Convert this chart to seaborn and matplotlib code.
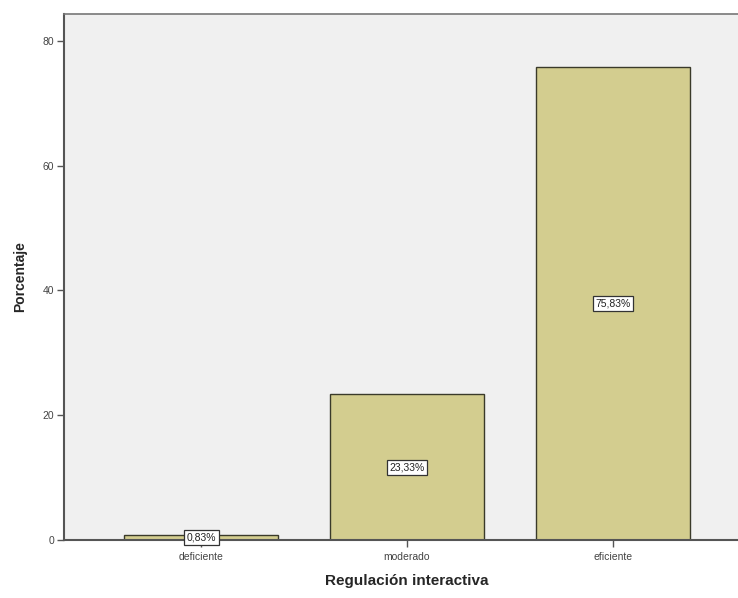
import pandas as pd
import numpy as np
import matplotlib
matplotlib.use("Agg")
import matplotlib.pyplot as plt
import seaborn as sns

# Datos
categorias = ['deficiente', 'moderado', 'eficiente']
porcentajes = [0.83, 23.33, 75.83]
etiquetas = ['0,83%', '23,33%', '75,83%']

df = pd.DataFrame({'categoria': categorias, 'porcentaje': porcentajes})

sns.set_style("white")
plt.rcParams['font.family'] = ['Arial', 'Liberation Sans', 'DejaVu Sans']

fig = plt.figure(figsize=(7.38, 5.98), dpi=100)
# el marco derecho queda fuera de la imagen, como en la referencia
ax = fig.add_axes([64 / 738, 58 / 598, (750 - 64) / 738, (540 - 14) / 598])

sns.barplot(data=df, x='categoria', y='porcentaje', ax=ax, color='#D3CD8F',
            saturation=1, width=0.75, edgecolor='#3a3a2a', linewidth=1.0)

ax.set_facecolor('#F0F0F0')
ax.set_xlim(-0.667, 2.667)
ax.set_ylim(0, 84.3)
ax.set_yticks([0, 20, 40, 60, 80])

# Etiquetas dentro de las barras
for i, (v, t) in enumerate(zip(porcentajes, etiquetas)):
    ax.text(i, v / 2, t, ha='center', va='center', fontsize=7.5, color='#222222',
            bbox=dict(boxstyle='square,pad=0.25', facecolor='white',
                      edgecolor='#333333', linewidth=0.9))

for s in ['left', 'bottom']:
    ax.spines[s].set_color('#555555')
    ax.spines[s].set_linewidth(1.5)
ax.spines['top'].set_color('#777777')
ax.spines['top'].set_linewidth(1.2)
ax.spines['right'].set_color('#777777')

ax.tick_params(axis='both', which='major', direction='out', length=5, width=1,
               color='#555555', labelsize=7.5, labelcolor='#444444', left=True, bottom=True)
ax.tick_params(axis='y', pad=2)

ax.set_xlabel('Regulación interactiva', fontsize=11, fontweight='bold', labelpad=9)
ax.set_ylabel('Porcentaje', fontsize=10, fontweight='bold', labelpad=11)

fig.savefig('out.png', dpi=100)
